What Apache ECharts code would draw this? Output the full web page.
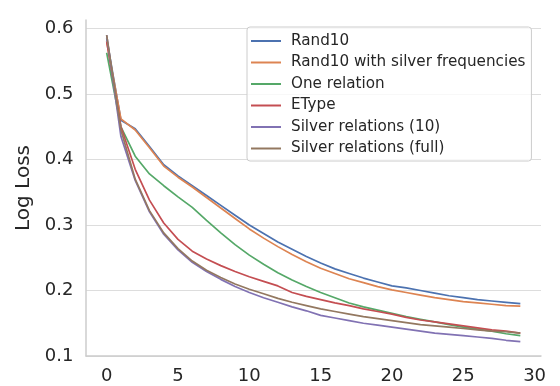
<!DOCTYPE html>
<html>
<head>
<meta charset="utf-8">
<script src="https://cdn.jsdelivr.net/npm/echarts@6/dist/echarts.min.js"></script>
<style>html,body{margin:0;padding:0;background:#fff}#c{width:560px;height:386px}</style>
</head>
<body>
<div id="c"></div>
<script>
const epochs = Array.from({length: 30}, (_, i) => i);
const seriesNames = ["Rand10", "Rand10 with silver frequencies", "One relation", "EType", "Silver relations (10)", "Silver relations (full)"];
const rand10 = [0.585,0.460,0.447,0.420,0.392,0.375,0.360,0.345,0.330,0.315,0.300,0.287,0.274,0.263,0.252,0.242,0.233,0.226,0.219,0.213,0.207,0.204,0.200,0.196,0.192,0.189,0.186,0.184,0.182,0.180];
const rand10Silver = [0.580,0.462,0.445,0.418,0.390,0.373,0.358,0.342,0.326,0.310,0.294,0.280,0.267,0.255,0.244,0.234,0.226,0.218,0.212,0.206,0.201,0.197,0.193,0.189,0.186,0.183,0.181,0.179,0.177,0.176];
const oneRelation = [0.563,0.450,0.405,0.378,0.360,0.343,0.327,0.307,0.288,0.270,0.254,0.240,0.227,0.216,0.206,0.197,0.189,0.181,0.175,0.170,0.165,0.160,0.156,0.152,0.148,0.144,0.141,0.138,0.134,0.131];
const etype = [0.580,0.450,0.385,0.338,0.303,0.278,0.260,0.248,0.238,0.229,0.221,0.214,0.207,0.197,0.191,0.186,0.181,0.177,0.172,0.168,0.164,0.159,0.155,0.152,0.149,0.146,0.143,0.140,0.138,0.135];
const silver10 = [0.590,0.435,0.368,0.320,0.286,0.262,0.243,0.229,0.217,0.206,0.197,0.189,0.182,0.175,0.169,0.162,0.158,0.154,0.150,0.147,0.144,0.141,0.138,0.135,0.133,0.131,0.129,0.127,0.124,0.122];
const silverFull = [0.590,0.445,0.370,0.322,0.288,0.264,0.245,0.231,0.220,0.210,0.202,0.195,0.188,0.182,0.177,0.172,0.168,0.164,0.160,0.157,0.154,0.151,0.148,0.146,0.144,0.142,0.140,0.138,0.137,0.135];
const xTicks = [0, 5, 10, 15, 20, 25, 30];
const yTicks = [0.1, 0.2, 0.3, 0.4, 0.5, 0.6];

const allData = [rand10, rand10Silver, oneRelation, etype, silver10, silverFull];
const colors = ["#4c72b0", "#dd8452", "#55a868", "#c44e52", "#8172b3", "#937860"];
const font = "DejaVu Sans";

const chart = echarts.init(document.getElementById('c'), null, {renderer: 'canvas'});
chart.setOption({
  animation: false,
  color: colors,
  grid: {left: 86, right: 19, top: 20, bottom: 30},
  xAxis: {
    type: 'value', min: -1.45, max: 30.45,
    axisLine: {show: true, onZero: false, lineStyle: {color: '#cccccc', width: 1.5}},
    axisTick: {show: false, customValues: xTicks},
    splitLine: {show: false},
    axisLabel: {customValues: xTicks, color: '#262626', fontFamily: font, fontSize: 18, margin: 11}
  },
  yAxis: {
    type: 'value', min: 0.1, max: 0.613,
    name: 'Log Loss', nameLocation: 'middle', nameGap: 49,
    nameTextStyle: {color: '#262626', fontFamily: font, fontSize: 20},
    axisLine: {show: true, onZero: false, lineStyle: {color: '#cccccc', width: 1.5}},
    axisTick: {show: false, customValues: yTicks},
    splitLine: {show: true, lineStyle: {color: '#dddddd', width: 1}},
    axisLabel: {customValues: yTicks, color: '#262626', fontFamily: font, fontSize: 18, margin: 12.5,
      formatter: v => v.toFixed(1)}
  },
  legend: {
    orient: 'vertical', left: 247, top: 27,
    padding: [5.5, 6, 4, 4],
    itemGap: 4.5, itemWidth: 30, itemHeight: 2,
    icon: 'rect',
    borderColor: '#cccccc', borderWidth: 1, borderRadius: 3,
    backgroundColor: 'rgba(255,255,255,0.8)',
    textStyle: {color: '#262626', fontFamily: font, fontSize: 15.2, lineHeight: 17, padding: [0, 0, 0, 5]},
    data: seriesNames
  },
  series: seriesNames.map((name, k) => ({
    name: name, type: 'line', symbol: 'none',
    data: epochs.map((e, i) => [e, allData[k][i]]),
    lineStyle: {width: 1.7, color: colors[k]},
    itemStyle: {color: colors[k]}
  }))
});
</script>
</body>
</html>
